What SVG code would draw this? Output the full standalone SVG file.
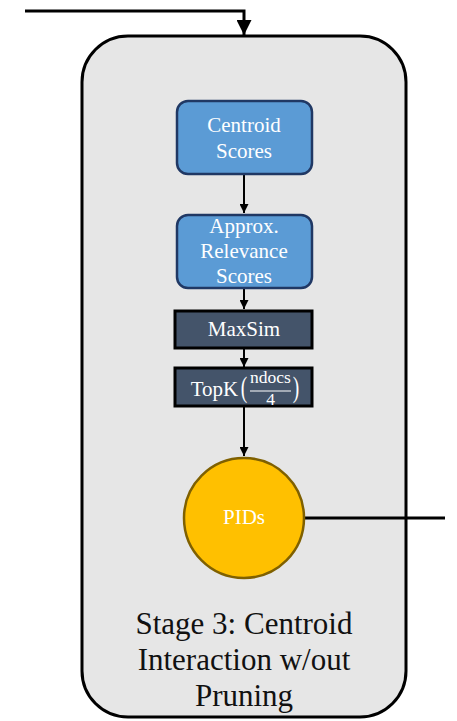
<svg xmlns="http://www.w3.org/2000/svg" width="457" height="721" viewBox="0 0 457 721">
<defs>
<style>
.t{font-family:"Liberation Serif","Times New Roman",serif;fill:#fff;text-anchor:middle}
.s{font-family:"Liberation Serif","Times New Roman",serif;fill:#111;text-anchor:middle;font-size:31px}
.blue{fill:#5b9bd5;stroke:#203864;stroke-width:2.5}
.dark{fill:#44546a;stroke:#000;stroke-width:3}
.ln{fill:none;stroke:#000;stroke-width:3}
.lt{fill:none;stroke:#000;stroke-width:2}
</style>
<marker id="ah" viewBox="0 0 10 10" refX="10" refY="5" markerWidth="5" markerHeight="5" orient="auto" markerUnits="strokeWidth"><path d="M0,0L10,5L0,10z" fill="#000"/></marker>
<marker id="ah2" viewBox="0 0 10 10" refX="10" refY="5" markerWidth="4.5" markerHeight="4.5" orient="auto" markerUnits="strokeWidth"><path d="M0,0L10,5L0,10z" fill="#000"/></marker>
</defs>
<g id="container">
<rect x="82" y="36" width="324" height="681" rx="46" fill="#e6e6e6" stroke="#000" stroke-width="3"/>
<text class="s" x="244" y="634">Stage 3: Centroid</text>
<text class="s" x="244" y="670">Interaction w/out</text>
<text class="s" x="244" y="706">Pruning</text>
</g>
<g id="connectors">
<path class="ln" d="M25,11H244V35" marker-end="url(#ah)"/>
<path class="lt" d="M244,174V213" marker-end="url(#ah2)"/>
<path class="lt" d="M244,288V309" marker-end="url(#ah2)"/>
<path class="lt" d="M244,348V367" marker-end="url(#ah2)"/>
<path class="lt" d="M244,406V456" marker-end="url(#ah2)"/>
<path class="ln" d="M305,518H445"/>
</g>
<g id="centroid">
<rect class="blue" x="177" y="101" width="135" height="73" rx="11"/>
<text class="t" x="244" y="132" font-size="21">Centroid</text>
<text class="t" x="244" y="158" font-size="21">Scores</text>
</g>
<g id="approx">
<rect class="blue" x="177" y="215" width="135" height="73" rx="11"/>
<text class="t" x="244" y="233" font-size="21">Approx.</text>
<text class="t" x="244" y="258" font-size="21">Relevance</text>
<text class="t" x="244" y="283" font-size="21">Scores</text>
</g>
<g id="maxsim">
<rect class="dark" x="175" y="311" width="137" height="37"/>
<text class="t" x="244" y="336" font-size="21">MaxSim</text>
</g>
<g id="topk">
<rect class="dark" x="175" y="368" width="137" height="38"/>
<text class="t" x="214.5" y="396" font-size="21">TopK</text>
<text class="t" x="244" y="397" font-size="26" transform="translate(244 397) scale(0.75 1.1) translate(-244 -397)">(</text>
<text class="t" x="270.5" y="383" font-size="17.5">ndocs</text>
<line x1="250" y1="391" x2="291" y2="391" stroke="#fff" stroke-width="1.2"/>
<text class="t" x="270.5" y="405" font-size="17.5">4</text>
<text class="t" x="296" y="397" font-size="26" transform="translate(296 397) scale(0.75 1.1) translate(-296 -397)">)</text>
</g>
<g id="pids">
<circle cx="244" cy="518" r="60" fill="#ffc000" stroke="#7f6000" stroke-width="2.5"/>
<text class="t" x="244" y="524" font-size="21">PIDs</text>
</g>
</svg>
